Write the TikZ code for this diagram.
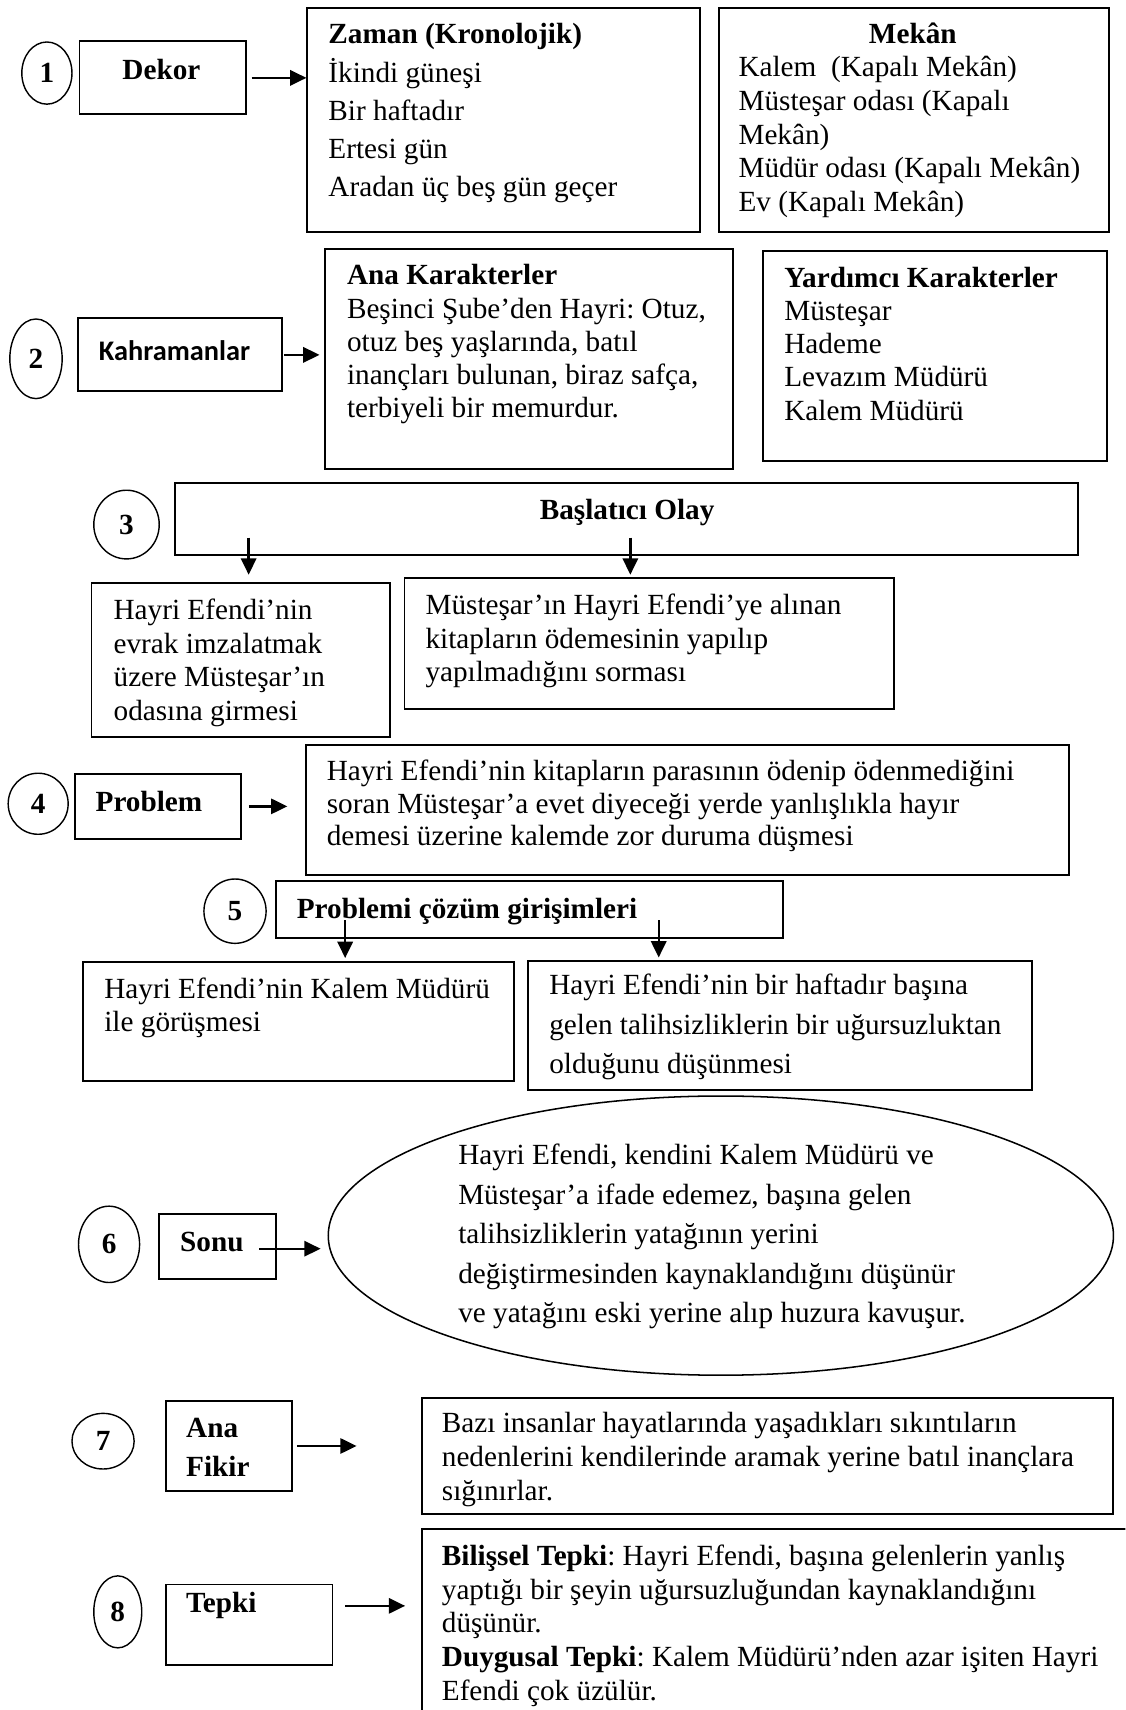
\documentclass[tikz,border=0pt]{standalone}
\usepackage{fontspec}
\setmainfont{Liberation Serif}
\newfontfamily\calibfont{Carlito}
\usetikzlibrary{arrows.meta,shapes.geometric}
\newcommand\fl{\rule{0pt}{26pt}}
\begin{document}
\frenchspacing
\begin{tikzpicture}[x=1pt,y=-1pt,
  box/.style={draw,line width=1.8pt,rectangle,inner sep=0pt,anchor=north west},
  num/.style={draw,line width=1.3pt,ellipse,inner sep=0pt,font=\bfseries\fontsize{26.8}{30}\selectfont},
  txt/.style={anchor=north west,inner sep=0pt,align=left,font=\fontsize{26.8}{#1}\selectfont},
  txt/.default=31,
  bt/.style={anchor=base west,inner sep=0pt,font=\bfseries\fontsize{26.8}{31}\selectfont},
  arr/.style={line width=2.2pt,-{Triangle[length=15pt,width=14pt]}},
]
\clip (0,0) rectangle (1032,1568);
% Row 1
\node[num,minimum width=46pt,minimum height=57pt] (n1) at (43,67) {1};
\node[box,minimum width=153pt,minimum height=67pt] (dekor) at (72,37) {};
\node[bt,anchor=base] (dekort) at (148,73) {Dekor};
\node[box,minimum width=360pt,minimum height=206pt] (zaman) at (281,6) {};
\node[txt=35] (zamant) at (301,14) {\fl\textbf{Zaman (Kronolojik)}\\İkindi güneşi\\Bir haftadır\\Ertesi gün\\Aradan üç beş gün geçer};
\node[box,minimum width=358pt,minimum height=206pt] (mekan) at (658,6) {};
\node[bt,anchor=base] (mekanh) at (837,40) {Mekân};
\node[txt=31] (mekant) at (677,44) {\fl Kalem\ \ (Kapalı Mekân)\\Müsteşar odası (Kapalı\\Mekân)\\Müdür odası (Kapalı Mekân)\\Ev (Kapalı Mekân)};
\draw[arr,shorten <=4pt] (dekor.east) -- (dekor.east -| zaman.west);
% Row 2
\node[num,minimum width=48pt,minimum height=73pt] (n2) at (33,329) {2};
\node[box,minimum width=187pt,minimum height=67pt] (kahr) at (71,291) {};
\node[anchor=base,inner sep=0pt,font=\calibfont\bfseries\fontsize{26}{30}\selectfont] (kahrt) at (160,331) {Kahramanlar};
\node[box,minimum width=374pt,minimum height=202pt] (ana) at (297,227) {};
\node[txt=30.5] (anat) at (318,235) {\fl\textbf{Ana Karakterler}\\Beşinci Şube’den Hayri: Otuz,\\otuz beş yaşlarında, batıl\\inançları bulunan, biraz safça,\\terbiyeli bir memurdur.};
\node[box,minimum width=315pt,minimum height=193pt] (yar) at (699,229) {};
\node[txt=30.5] (yart) at (719,237) {\fl\textbf{Yardımcı Karakterler}\\Müsteşar\\Hademe\\Levazım Müdürü\\Kalem Müdürü};
\draw[arr,shorten <=1pt,shorten >=4pt] (kahr.east) -- (kahr.east -| ana.west);
% Row 3
\node[num,minimum width=60pt,minimum height=63pt] (n3) at (116,481) {3};
\node[box,minimum width=828pt,minimum height=66pt] (basl) at (160,442) {};
\node[bt,anchor=base] (baslt) at (575,476) {Başlatıcı Olay};
\node[box,minimum width=274pt,minimum height=141pt] (lb3) at (83,534) {};
\node[txt=30.7] (lb3t) at (104,542) {\fl Hayri Efendi’nin\\evrak imzalatmak\\üzere Müsteşar’ın\\odasına girmesi};
\node[box,minimum width=449pt,minimum height=120pt] (rb3) at (370,529) {};
\node[txt=31] (rb3t) at (390,537) {\fl Müsteşar’ın Hayri Efendi’ye alınan\\kitapların ödemesinin yapılıp\\yapılmadığını sorması};
\coordinate (s3a) at (228,493);
\coordinate (s3b) at (578,493);
\draw[arr,shorten >=7pt] (s3a) -- (s3a |- lb3.north);
\draw[arr,shorten >=2pt] (s3b) -- (s3b |- rb3.north);
% Row 4
\node[num,minimum width=55pt,minimum height=56pt] (n4) at (35,737) {4};
\node[box,minimum width=152pt,minimum height=59pt] (prob) at (68,709) {};
\node[bt] (probt) at (87.5,744.5) {Problem};
\node[box,minimum width=699pt,minimum height=119pt] (b4) at (280,682) {};
\node[txt=30] (b4t) at (299.5,689.5) {\fl Hayri Efendi’nin kitapların parasının ödenip ödenmediğini\\soran Müsteşar’a evet diyeceği yerde yanlışlıkla hayır\\demesi üzerine kalemde zor duruma düşmesi};
\draw[arr,shorten <=6.5pt,shorten >=16.5pt] (prob.east) -- (prob.east -| b4.west);
% Row 5
\node[num,minimum width=57pt,minimum height=59pt] (n5) at (215.5,835.5) {5};
\node[box,minimum width=465pt,minimum height=52pt] (pcg) at (252,807) {};
\node[bt] (pcgt) at (272,842.5) {Problemi çözüm girişimleri};
\node[box,minimum width=395pt,minimum height=109pt] (lb5) at (75.5,881.5) {};
\node[txt=31] (lb5t) at (95.5,889) {\fl Hayri Efendi’nin Kalem Müdürü\\ile görüşmesi};
\node[box,minimum width=462pt,minimum height=118.5pt] (rb5) at (483.5,880) {};
\node[txt=36] (rb5t) at (503.5,886) {\fl Hayri Efendi’nin bir haftadır başına\\gelen talihsizliklerin bir uğursuzluktan\\olduğunu düşünmesi};
\coordinate (s5a) at (316.5,844);
\coordinate (s5b) at (604,844);
\draw[arr,shorten >=3pt] (s5a) -- (s5a |- lb5.north);
\draw[arr,shorten >=2pt] (s5b) -- (s5b |- rb5.north);
% Row 6
\node[num,minimum width=56pt,minimum height=70pt] (n6) at (100,1141) {6};
\node[box,minimum width=107pt,minimum height=59.5pt] (sonu) at (145,1112.5) {};
\node[bt] (sonut) at (165,1148) {Sonu};
\node[draw,ellipse,line width=1.4pt,minimum width=720pt,minimum height=256pt,inner sep=0pt] (elli) at (661,1133) {};
\node[txt=36.2] (ellit) at (420,1042) {\fl Hayri Efendi, kendini Kalem Müdürü ve\\Müsteşar’a ifade edemez, başına gelen\\talihsizliklerin yatağının yerini\\değiştirmesinden kaynaklandığını düşünür\\ve yatağını eski yerine alıp huzura kavuşur.};
\coordinate (e6) at (294,1145);
\draw[arr,shorten <=14pt] (sonut.east |- e6) -- (e6);
% Row 7
\node[num,minimum width=57pt,minimum height=51pt] (n7) at (94.5,1321.5) {7};
\node[box,minimum width=116pt,minimum height=82pt] (anaf) at (151,1284) {};
\node[txt=36] (anaft) at (170.5,1292) {\fl\textbf{Ana}\\\textbf{Fikir}};
\node[box,minimum width=634pt,minimum height=106pt] (b7) at (386,1281) {};
\node[txt=31] (b7t) at (405,1287.5) {\fl Bazı insanlar hayatlarında yaşadıkları sıkıntıların\\nedenlerini kendilerinde aramak yerine batıl inançlara\\sığınırlar.};
\draw[arr,shorten <=3.5pt,shorten >=59pt] (anaf.east) -- (anaf.east -| b7.west);
% Row 8
\node[num,minimum width=44pt,minimum height=66pt] (n8) at (108,1478) {8};
\node[box,minimum width=153pt,minimum height=74pt] (tepki) at (151,1452) {};
\node[bt] (tepkit) at (170.5,1478.5) {Tepki};
\node[box,minimum width=700pt,minimum height=250pt] (b8) at (386,1401) {};
\node[txt=31] (b8t) at (405,1409) {\fl\textbf{Bilişsel Tepki}: Hayri Efendi, başına gelenlerin yanlış\\yaptığı bir şeyin uğursuzluğundan kaynaklandığını\\düşünür.\\\textbf{Duygusal Tepki}: Kalem Müdürü’nden azar işiten Hayri\\Efendi çok üzülür.};
\coordinate (s8) at (316.5,1472.5);
\draw[arr,shorten >=14.5pt] (s8) -- (s8 -| b8.west);
\end{tikzpicture}
\end{document}
